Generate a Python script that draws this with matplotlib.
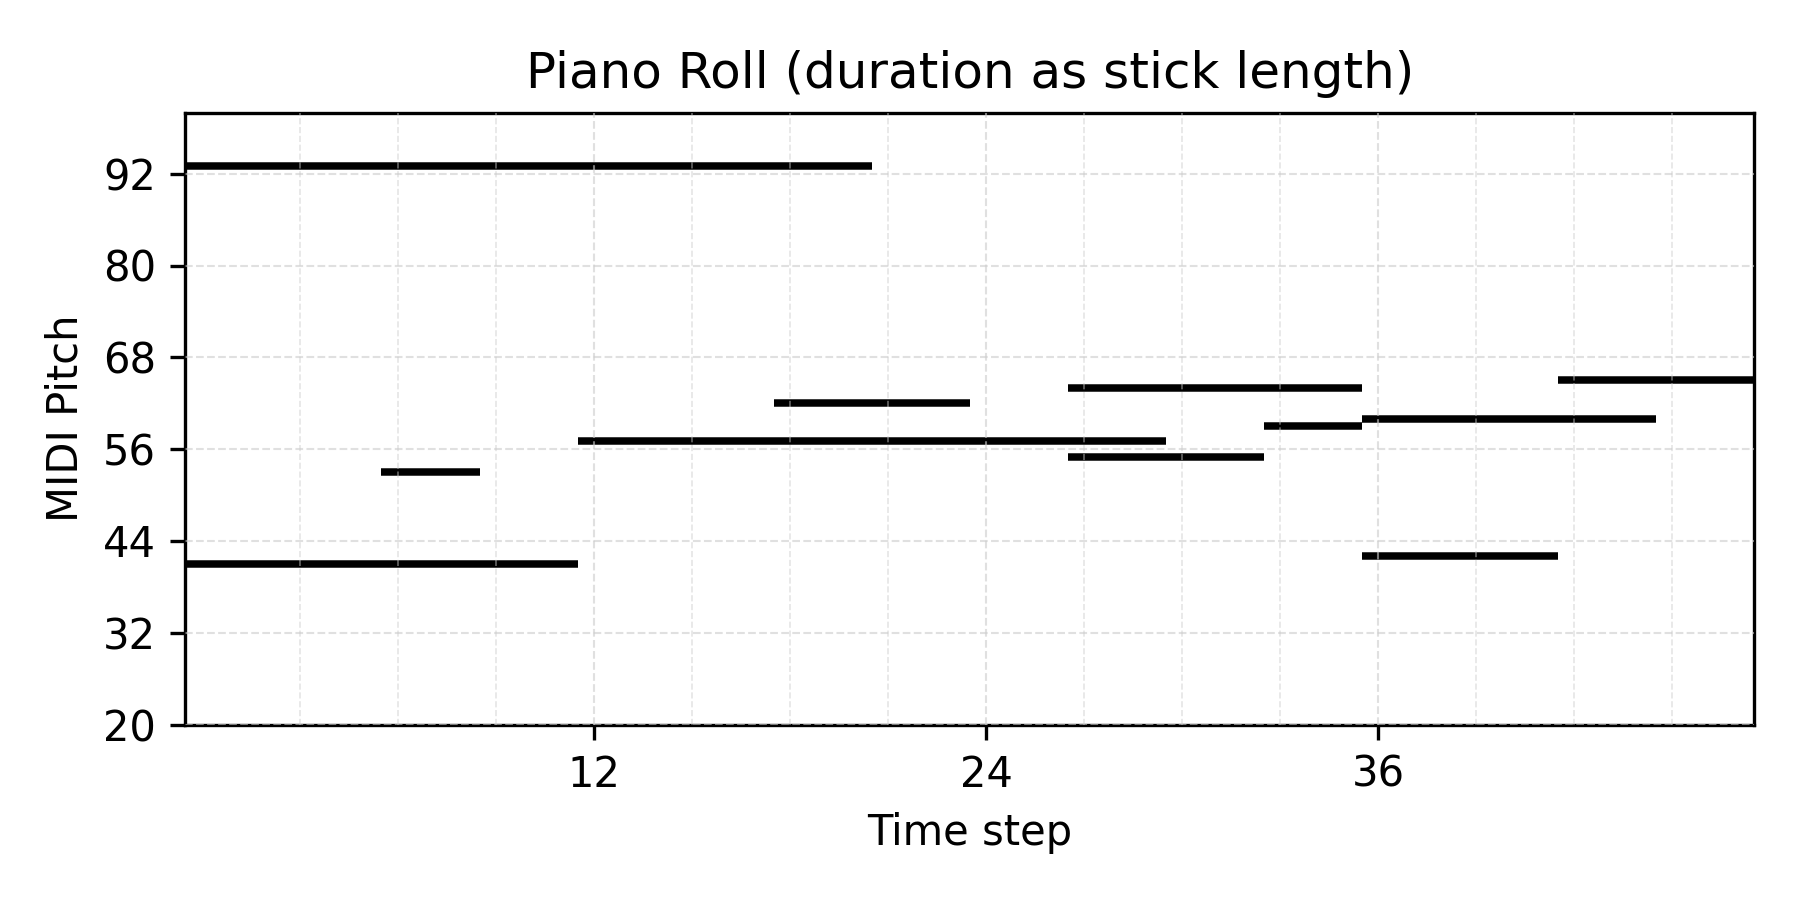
import matplotlib
matplotlib.use("Agg")
import matplotlib.pyplot as plt
from matplotlib.ticker import FixedLocator

# note data: start step, duration (steps), MIDI pitch
starts = [0, 0, 6, 12, 18, 27, 27, 33, 36, 36, 42]
durations = [21, 12, 3, 18, 6, 9, 6, 3, 9, 6, 6]
pitches = [93, 41, 53, 57, 62, 64, 55, 59, 60, 42, 65]

x_ticks = [12, 24, 36]
x_minor = list(range(3, 48, 3))
y_ticks = [20, 32, 44, 56, 68, 80, 92]

fig, ax = plt.subplots(figsize=(6, 3), dpi=300)
fig.subplots_adjust(left=0.103, right=0.9745, top=0.875, bottom=0.195)

x0 = [s - 0.5 for s in starts]
x1 = [s + d - 0.5 for s, d in zip(starts, durations)]
ax.hlines(pitches, x0, x1, colors="black", linewidth=1.8)

ax.set_xlim(-0.5, 47.5)
ax.set_ylim(20, 100)
ax.set_xticks(x_ticks)
ax.set_yticks(y_ticks)
ax.xaxis.set_minor_locator(FixedLocator(x_minor))
ax.tick_params(axis="x", which="minor", length=0)

ax.set_axisbelow(False)
ax.grid(True, which="major", linestyle="--", color="#cccccc", alpha=0.6, linewidth=0.5)
ax.grid(True, which="minor", axis="x", linestyle="--", color="#cccccc", alpha=0.5, linewidth=0.4)

ax.set_title("Piano Roll (duration as stick length)")
ax.set_xlabel("Time step")
ax.set_ylabel("MIDI Pitch")

fig.savefig("out.png", dpi=300)
